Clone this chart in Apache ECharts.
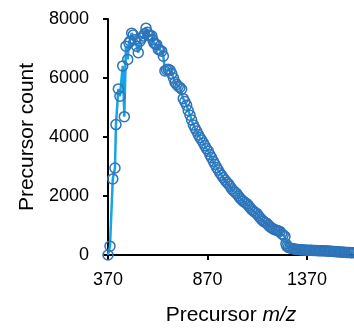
<!DOCTYPE html>
<html>
<head>
<meta charset="utf-8">
<script src="https://cdn.jsdelivr.net/npm/echarts@6/dist/echarts.min.js"></script>
<style>html,body{margin:0;padding:0;background:#fff}#c{width:354px;height:331px}</style>
</head>
<body>
<div id="c"></div>
<script>
// m/z values and precursor counts
const mz = [370,380,394,405,410,422,430,444,452,460,469,475,481,489,497,505,514,522,531,539,547,554,561,567,573,581,590,595,601,608,615,623,631,640,648,656,664,672,682,690,699,707,715,723,731,740,748,756,765,773,782,790,799,807,815,824,832,840,849,857,865,874,882,890,899,907,916,924,932,941,949,958,966,975,983,991,1000,1008,1017,1025,1033,1042,1050,1058,1067,1075,1083,1092,1100,1108,1117,1125,1133,1142,1150,1158,1167,1175,1183,1192,1200,1208,1217,1225,1234,1242,1250,1259,1264,1268,1276,1284,1293,1301,1310,1318,1326,1335,1343,1352,1360,1368,1377,1385,1393,1402,1410,1418,1427,1435,1443,1452,1460,1468,1477,1485,1493,1502,1510,1518,1527,1535,1543,1552,1560,1568,1577,1585,1593,1601,1610];
const counts = [0,300,2580,2950,4420,5630,5380,6410,4690,7080,6630,7190,7250,7520,7460,7300,7080,6860,7250,7350,7420,7500,7690,7550,7460,7440,7430,7300,7190,7150,7130,6970,6950,6910,6740,6240,6280,6300,6260,6150,6000,5850,5780,5720,5680,5620,5300,5200,5080,4900,4740,4580,4410,4300,4200,4080,3980,3900,3800,3700,3600,3520,3400,3300,3180,3080,2970,2880,2780,2700,2620,2540,2470,2410,2330,2250,2180,2130,2080,2000,1930,1870,1820,1780,1740,1680,1610,1540,1490,1450,1410,1340,1270,1200,1150,1110,1080,1020,960,920,880,860,840,820,800,720,680,630,380,300,260,240,220,210,200,190,185,180,175,170,168,165,162,160,158,155,152,150,148,146,144,142,140,136,132,128,124,120,116,112,108,104,100,96,92,88,85,82,80,78];
const xTicks = [370,870,1370];
const yTicks = [0,2000,4000,6000,8000];

const chart = echarts.init(document.getElementById('c'), null, {renderer:'canvas'});
const font = '"Liberation Sans", Arial, sans-serif';
const axisStyle = {color:'#000',width:2,opacity:1};
chart.setOption({
  animation:false,
  backgroundColor:'#fff',
  grid:{left:108,right:0,top:19,bottom:72,containLabel:false},
  xAxis:{
    type:'value', min:370, max:1606,
    axisLine:{show:true,lineStyle:axisStyle},
    axisTick:{show:true,customValues:xTicks,length:5,lineStyle:axisStyle},
    axisLabel:{customValues:xTicks,color:'#000',fontSize:18,fontFamily:font,margin:16,formatter:v=>String(v)},
    splitLine:{show:false},
    name:'{a|Precursor }{b|m/z}', nameLocation:'middle', nameGap:50,
    nameTextStyle:{rich:{a:{fontSize:21,fontFamily:font,color:'#000'},b:{fontSize:21,fontFamily:font,fontStyle:'italic',color:'#000'}}}
  },
  yAxis:{
    type:'value', min:0, max:8000, interval:2000,
    axisLine:{show:true,lineStyle:axisStyle},
    axisTick:{show:true,customValues:yTicks,length:5,lineStyle:axisStyle},
    axisLabel:{customValues:yTicks,color:'#000',fontSize:18,fontFamily:font,margin:19,formatter:v=>String(v)},
    splitLine:{show:false},
    name:'Precursor count', nameLocation:'middle', nameGap:67,
    nameTextStyle:{fontSize:21,fontFamily:font,color:'#000'}
  },
  series:[{
    type:'line',
    data: mz.map((m,i)=>[m,counts[i]]),
    clip:false,
    symbol:'circle', symbolSize:10,
    lineStyle:{color:'#17A3E6',width:2.5},
    itemStyle:{color:'rgba(255,255,255,0)',borderColor:'#2F73B8',borderWidth:1.5}
  }]
});
</script>
</body>
</html>
